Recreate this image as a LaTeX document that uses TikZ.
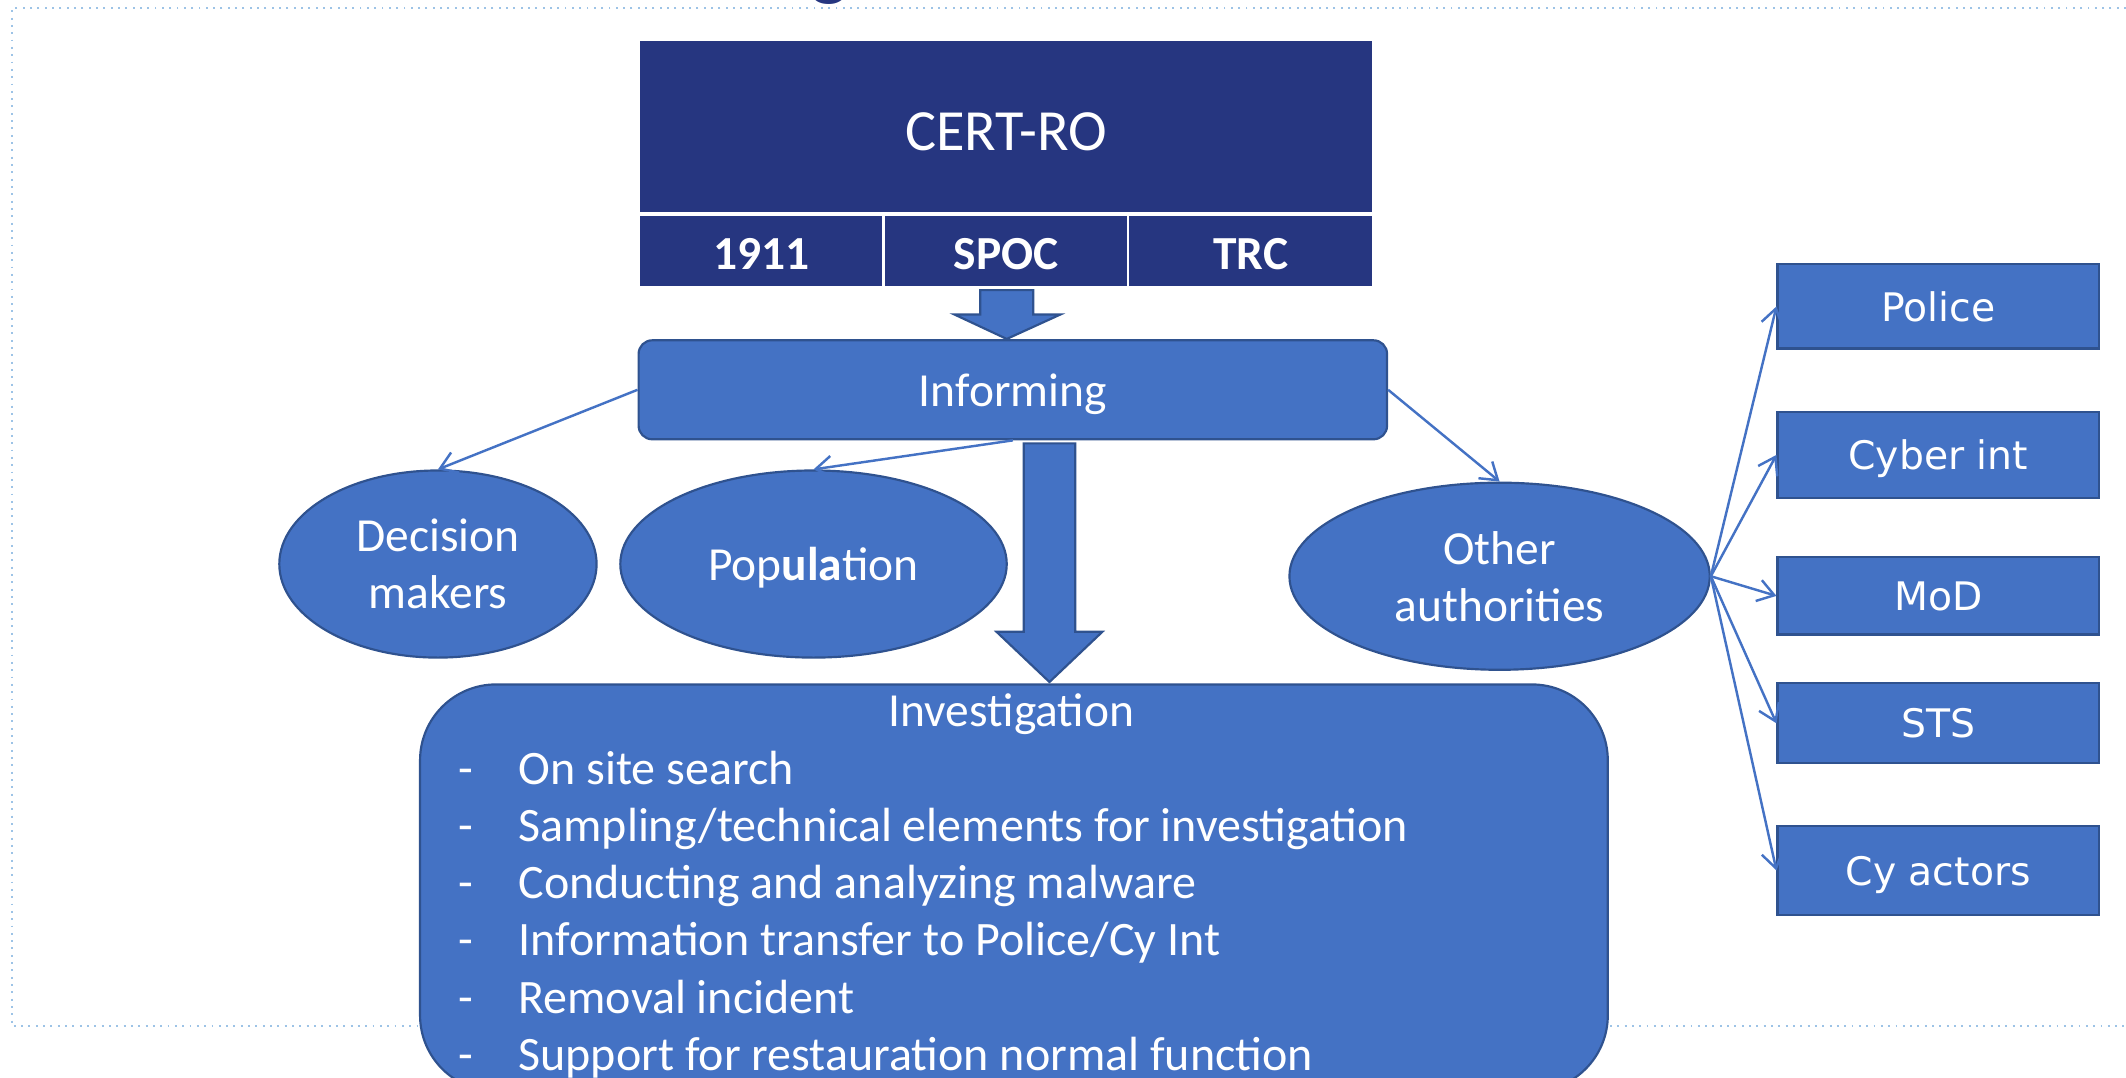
\documentclass[tikz,border=0pt]{standalone}
\usepackage{fontspec}
\setmainfont{Carlito}
\newfontfamily\orgfont{DejaVu Sans}
\usepackage{xcolor}
\usetikzlibrary{arrows.meta,shapes.geometric}

\definecolor{certnavy}{RGB}{38,54,128}
\definecolor{officeblue}{RGB}{68,114,196}
\definecolor{officeedge}{RGB}{47,82,143}
\definecolor{slideline}{RGB}{157,195,230}

\begin{document}
\begin{tikzpicture}[x=0.5pt,y=-0.5pt,
        certbox/.style={rectangle,fill=certnavy,draw=white,line width=1pt,text=white,inner sep=0pt,text depth=0pt},
        bluebox/.style={rectangle,fill=officeblue,draw=officeedge,line width=0.8pt,text=white,inner sep=0pt,text depth=0pt},
        blueoval/.style={ellipse,fill=officeblue,draw=officeedge,line width=0.8pt,text=white,inner sep=0pt,text depth=0pt,
                         align=center,font=\fontsize{17.5}{21}\selectfont},
        orgbox/.style={bluebox,minimum width=118.5pt,font=\orgfont\fontsize{14.5}{17}\selectfont},
        thinarrow/.style={draw=officeblue,line width=0.9pt,-{Straight Barb[length=6pt,width=8pt]}},
        blockarrow/.style={fill=officeblue,draw=officeedge,line width=0.8pt,line join=miter}]

        \useasboundingbox (0,0) rectangle (1568,795);
        \draw[slideline,dotted,line width=0.7pt] (1568,6) -- (9,6) -- (9,757) -- (1568,757);
        \node[text=certnavy,anchor=base,font=\fontsize{30}{36}\selectfont] (titlefrag) at (612,-7) {g};

        \node[certbox,minimum width=271pt,minimum height=64pt,text height=18pt,font=\fontsize{21.5}{26}\selectfont] (cert) at (742,93) {CERT-RO};
        \node[certbox,minimum width=90.5pt,minimum height=27pt,text height=14pt,font=\bfseries\fontsize{17.5}{21}\selectfont] (num)  at (561.5,185) {1911};
        \node[certbox,minimum width=90.5pt,minimum height=27pt,text height=14pt,font=\bfseries\fontsize{17.5}{21}\selectfont] (spoc) at (742,185)   {SPOC};
        \node[certbox,minimum width=90.5pt,minimum height=27pt,text height=14pt,font=\bfseries\fontsize{17.5}{21}\selectfont] (trc)  at (922.5,185) {TRC};

        \draw[blockarrow] (723,214) -- (762,214) -- (762,232) -- (782,232) -- (742.5,250) -- (704,232) -- (723,232) -- cycle;

        \node[bluebox,rounded corners=5pt,minimum width=276pt,minimum height=36.5pt,font=\fontsize{17.5}{21}\selectfont] (inform) at (747,287.5) {Informing};

        \node[blueoval,minimum width=117pt,minimum height=69pt]   (decision)   at (323,416)  {Decision\\makers};
        \node[blueoval,minimum width=142.5pt,minimum height=69pt] (population) at (600,416)  {Pop\textbf{ula}tion};
        \node[blueoval,minimum width=155pt,minimum height=69pt]   (otherauth)  at (1106,425) {Other\\authorities};

        \draw[blockarrow] (755,327) -- (793,327) -- (793,466) -- (813,466) -- (774,503) -- (735,466) -- (755,466) -- cycle;

        \node[bluebox,rounded corners=28pt,minimum width=438pt,minimum height=150pt,anchor=north west] (invest) at (309,504) {};
        \node[text=white,font=\fontsize{17.5}{21}\selectfont] (investtitle) at (746,527) {Investigation};
        \node[text=white,anchor=west,inner sep=0pt,font=\fontsize{17.7}{21.1}\selectfont] (investlist) at (338,675.5) {%
            \begin{tabular}{@{}p{22pt}@{}l@{}}
            - & On site search\\
            - & Sampling/technical elements for investigation\\
            - & Conducting and analyzing malware\\
            - & Information transfer to Police/Cy Int\\
            - & Removal incident\\
            - & Support for restauration normal function
            \end{tabular}};

        \node[orgbox,minimum height=31pt]   (police)   at (1429.5,226)   {Police};
        \node[orgbox,minimum height=31.5pt] (cyberint) at (1429.5,335.5) {Cyber int};
        \node[orgbox,minimum height=28.5pt] (mod)      at (1429.5,439.5) {MoD};
        \node[orgbox,minimum height=29.5pt] (sts)      at (1429.5,533.5) {STS};
        \node[orgbox,minimum height=33pt]   (cyactors) at (1429.5,642)   {Cy actors};

        \draw[thinarrow] (inform.west)  -- (decision.north);
        \draw[thinarrow] (inform.south) -- (population.north);
        \draw[thinarrow] (inform.east)  -- (otherauth.north);

        \draw[thinarrow] (otherauth.east) -- (police.west);
        \draw[thinarrow] (otherauth.east) -- (cyberint.west);
        \draw[thinarrow] (otherauth.east) -- (mod.west);
        \draw[thinarrow] (otherauth.east) -- (sts.west);
        \draw[thinarrow] (otherauth.east) -- (cyactors.west);
    \end{tikzpicture}
\end{document}
